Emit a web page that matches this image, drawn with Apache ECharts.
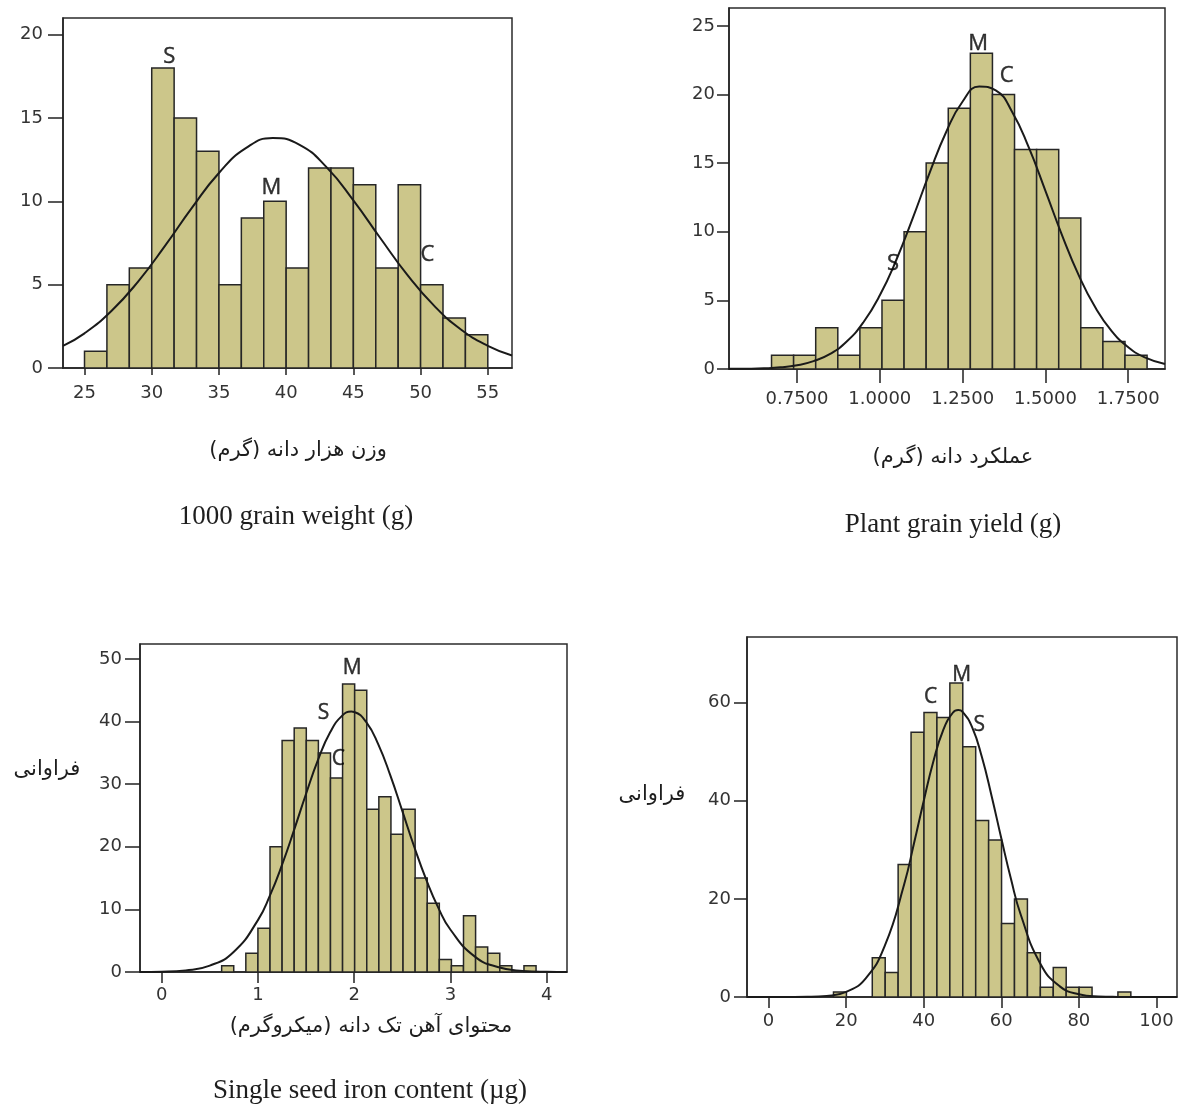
<!DOCTYPE html>
<html>
<head>
<meta charset="utf-8">
<script src="https://cdn.jsdelivr.net/npm/echarts@6/dist/echarts.min.js"></script>
<style>
  html, body { margin: 0; padding: 0; background: #fff; }
  #main { width: 1179px; height: 1106px; }
</style>
</head>
<body>
<div id="main"></div>
<script>
// ---- data ----
// 1000 grain weight
const p1Start = 25;
const p1Width = 1.6667;
const p1Counts = [1, 5, 6, 18, 15, 13, 5, 9, 10, 6, 12, 12, 11, 6, 11, 5, 3, 2];
const p1CurveX = [23.4, 25, 27, 29, 31, 33, 35, 37, 39, 41, 43, 45, 47, 49, 51, 53, 55, 56.8];
const p1CurveY = [1.33, 2.08, 3.42, 5.2, 7.34, 9.62, 11.7, 13.19, 13.8, 13.39, 12.05, 10.06, 7.8, 5.6, 3.74, 2.31, 1.33, 0.75];
const p1XTicks = [25, 30, 35, 40, 45, 50, 55];
const p1YTicks = [0, 5, 10, 15, 20];

// plant grain yield
const p2Start = 0.673;
const p2Width = 0.0667;
const p2Counts = [1, 1, 3, 1, 3, 5, 10, 15, 19, 23, 20, 16, 16, 11, 3, 2, 1];
const p2CurveX = [0.545, 0.6, 0.65, 0.7, 0.75, 0.8, 0.85, 0.9, 0.95, 1.0, 1.05, 1.1, 1.15, 1.2, 1.25, 1.3, 1.35, 1.4, 1.45, 1.5, 1.55, 1.6, 1.65, 1.7, 1.75, 1.8, 1.861];
const p2CurveY = [0.01, 0.02, 0.05, 0.12, 0.27, 0.57, 1.1, 2.0, 3.39, 5.37, 7.96, 11.03, 14.27, 17.25, 19.49, 20.58, 20.3, 18.71, 16.12, 12.98, 9.76, 6.86, 4.51, 2.76, 1.59, 0.85, 0.36];
const p2XTicks = [0.75, 1.0, 1.25, 1.5, 1.75];
const p2YTicks = [0, 5, 10, 15, 20, 25];

// single seed iron content
const p3Start = 0.623;
const p3Width = 0.1256;
const p3Counts = [1, 0, 3, 7, 20, 37, 39, 37, 35, 31, 46, 45, 26, 28, 22, 26, 15, 11, 2, 1, 9, 4, 3, 1, 0, 1];
const p3CurveX = [-0.225, 0, 0.25, 0.5, 0.75, 1.0, 1.125, 1.25, 1.375, 1.5, 1.625, 1.75, 1.875, 1.97, 2.0, 2.125, 2.25, 2.375, 2.5, 2.625, 2.75, 2.875, 3.0, 3.25, 3.5, 3.75, 4.0, 4.21];
const p3CurveY = [0.01, 0.05, 0.26, 1.02, 3.24, 8.29, 12.23, 17.1, 22.67, 28.48, 33.92, 38.29, 40.96, 41.6, 41.54, 39.92, 36.37, 31.4, 25.7, 19.93, 14.66, 10.21, 6.75, 2.5, 0.75, 0.18, 0.04, 0.01];
const p3XTicks = [0, 1, 2, 3, 4];
const p3YTicks = [0, 10, 20, 30, 40, 50];

// fourth panel
const p4Start = 16.74;
const p4Width = 3.333;
const p4Counts = [1, 0, 0, 8, 5, 27, 54, 58, 57, 64, 51, 36, 32, 15, 20, 9, 2, 6, 2, 2, 0, 0, 1];
const p4CurveX = [-5.56, 0, 5, 10, 15, 20, 25, 30, 35, 37.5, 40, 42.5, 45, 47.5, 48.9, 50, 52.5, 55, 57.5, 60, 62.5, 65, 70, 75, 80, 85, 90, 95, 100, 105.3];
const p4CurveY = [0, 0, 0.01, 0.04, 0.23, 1.06, 3.76, 10.51, 23.11, 31.33, 39.98, 48.05, 54.37, 57.95, 58.5, 58.16, 54.97, 48.92, 41.0, 32.36, 24.05, 16.83, 6.89, 2.22, 0.56, 0.11, 0.02, 0, 0, 0];
const p4XTicks = [0, 20, 40, 60, 80, 100];
const p4YTicks = [0, 20, 40, 60];

// S / M / C markers: [label, x, y]
const p1Notes = [['S', 31.3, 18.7], ['M', 38.9, 10.8], ['C', 50.5, 6.8]];
const p2Notes = [['M', 1.297, 23.7], ['C', 1.383, 21.4], ['S', 1.04, 7.7]];
const p3Notes = [['M', 1.98, 48.6], ['S', 1.68, 41.3], ['C', 1.835, 34.0]];
const p4Notes = [['C', 41.8, 61.2], ['M', 49.8, 65.6], ['S', 54.3, 55.4]];

// ---- chart ----
const chart = echarts.init(document.getElementById('main'));

const ink = '#222';
const barFill = '#ccc68a';
const tickFont = 'DejaVu Sans';

function xAxisOf(idx, min, max, ticks, tickLen, margin, fmt) {
  return {
    type: 'value', gridIndex: idx, min: min, max: max,
    splitLine: { show: false },
    axisLine: { show: true, onZero: false, lineStyle: { color: ink, width: 1.5 } },
    axisTick: { show: true, length: tickLen, customValues: ticks, lineStyle: { color: ink, width: 1.5 } },
    axisLabel: {
      customValues: ticks, margin: margin, fontSize: 18, color: '#333',
      fontFamily: tickFont, formatter: fmt || function (v) { return String(v); }
    }
  };
}

function yAxisOf(idx, max, ticks, tickLen, margin) {
  return {
    type: 'value', gridIndex: idx, min: 0, max: max,
    splitLine: { show: false },
    axisLine: { show: true, onZero: false, lineStyle: { color: ink, width: 1.5 } },
    axisTick: { show: true, length: tickLen, customValues: ticks, lineStyle: { color: ink, width: 1.5 } },
    axisLabel: { customValues: ticks, margin: margin, fontSize: 18, color: '#333', fontFamily: tickFont }
  };
}

function histSeries(idx, start, width, counts) {
  return {
    type: 'custom', xAxisIndex: idx, yAxisIndex: idx, z: 2,
    data: counts.map(function (c, i) { return [start + i * width, start + (i + 1) * width, c]; }),
    encode: { x: [0, 1], y: 2 },
    renderItem: function (params, api) {
      if (!api.value(2)) return null;
      const a = api.coord([api.value(0), 0]);
      const b = api.coord([api.value(1), api.value(2)]);
      return {
        type: 'rect',
        shape: { x: a[0], y: b[1], width: b[0] - a[0], height: a[1] - b[1] },
        style: { fill: barFill, stroke: '#262626', lineWidth: 1.5 }
      };
    }
  };
}

function curveSeries(idx, xs, ys) {
  return {
    type: 'line', xAxisIndex: idx, yAxisIndex: idx, z: 3,
    data: xs.map(function (x, i) { return [x, ys[i]]; }),
    smooth: true, showSymbol: false, symbol: 'none',
    lineStyle: { color: '#1a1a1a', width: 2 },
    silent: true
  };
}

function noteSeries(idx, notes, size) {
  return {
    type: 'scatter', xAxisIndex: idx, yAxisIndex: idx, z: 4,
    symbolSize: 1, itemStyle: { color: 'rgba(0,0,0,0)' },
    data: notes.map(function (n) { return { name: n[0], value: [n[1], n[2]] }; }),
    label: {
      show: true, position: 'inside', formatter: '{b}',
      fontSize: size, color: '#000', fontFamily: 'Open Sans',
      textBorderColor: '#000', textBorderWidth: 0.4
    },
    silent: true
  };
}

const frame = { show: true, borderColor: '#2b2b2b', borderWidth: 1.5, backgroundColor: 'transparent' };

function fa(t) { return '\u200F' + t + '\u200F'; }

function textAt(x, y, text, font) {
  return {
    type: 'text', x: x, y: y,
    style: { text: text, font: font, fill: '#1e1e1e', align: 'center', verticalAlign: 'middle' }
  };
}

const faFont = '21px "DejaVu Sans"';
const enFont = '27px "Liberation Serif"';

chart.setOption({
  animation: false,
  backgroundColor: '#fff',
  grid: [
    Object.assign({ left: 63, top: 18, width: 449, height: 350 }, frame),
    Object.assign({ left: 729, top: 8, width: 436, height: 361 }, frame),
    Object.assign({ left: 140, top: 644, width: 427, height: 328 }, frame),
    Object.assign({ left: 747, top: 637, width: 430, height: 360 }, frame)
  ],
  xAxis: [
    xAxisOf(0, 23.4, 56.8, p1XTicks, 7, 16),
    xAxisOf(1, 0.5446, 1.861, p2XTicks, 14, 21, function (v) { return v.toFixed(4); }),
    xAxisOf(2, -0.225, 4.21, p3XTicks, 11, 14),
    xAxisOf(3, -5.56, 105.3, p4XTicks, 11, 15)
  ],
  yAxis: [
    yAxisOf(0, 21, p1YTicks, 15, 20),
    yAxisOf(1, 26.3, p2YTicks, 12, 14),
    yAxisOf(2, 52.4, p3YTicks, 15, 18),
    yAxisOf(3, 73.4, p4YTicks, 13, 16)
  ],
  series: [
    histSeries(0, p1Start, p1Width, p1Counts),
    curveSeries(0, p1CurveX, p1CurveY),
    noteSeries(0, p1Notes, 22),
    histSeries(1, p2Start, p2Width, p2Counts),
    curveSeries(1, p2CurveX, p2CurveY),
    noteSeries(1, p2Notes, 22),
    histSeries(2, p3Start, p3Width, p3Counts),
    curveSeries(2, p3CurveX, p3CurveY),
    noteSeries(2, p3Notes, 21),
    histSeries(3, p4Start, p4Width, p4Counts),
    curveSeries(3, p4CurveX, p4CurveY),
    noteSeries(3, p4Notes, 21)
  ],
  graphic: [
    textAt(298, 451, fa('وزن هزار دانه (گرم)'), faFont),
    textAt(296, 517, '1000 grain weight (g)', enFont),
    textAt(953, 458, fa('عملکرد دانه (گرم)'), faFont),
    textAt(953, 525, 'Plant grain yield (g)', enFont),
    textAt(371, 1027, fa('محتوای آهن تک دانه (میکروگرم)'), faFont),
    textAt(370, 1091, 'Single seed iron content (µg)', enFont),
    textAt(47, 770, fa('فراوانی'), faFont),
    textAt(652, 795, fa('فراوانی'), faFont)
  ]
});

window.addEventListener('resize', function () {
  chart.resize();
});
</script>
</body>
</html>
